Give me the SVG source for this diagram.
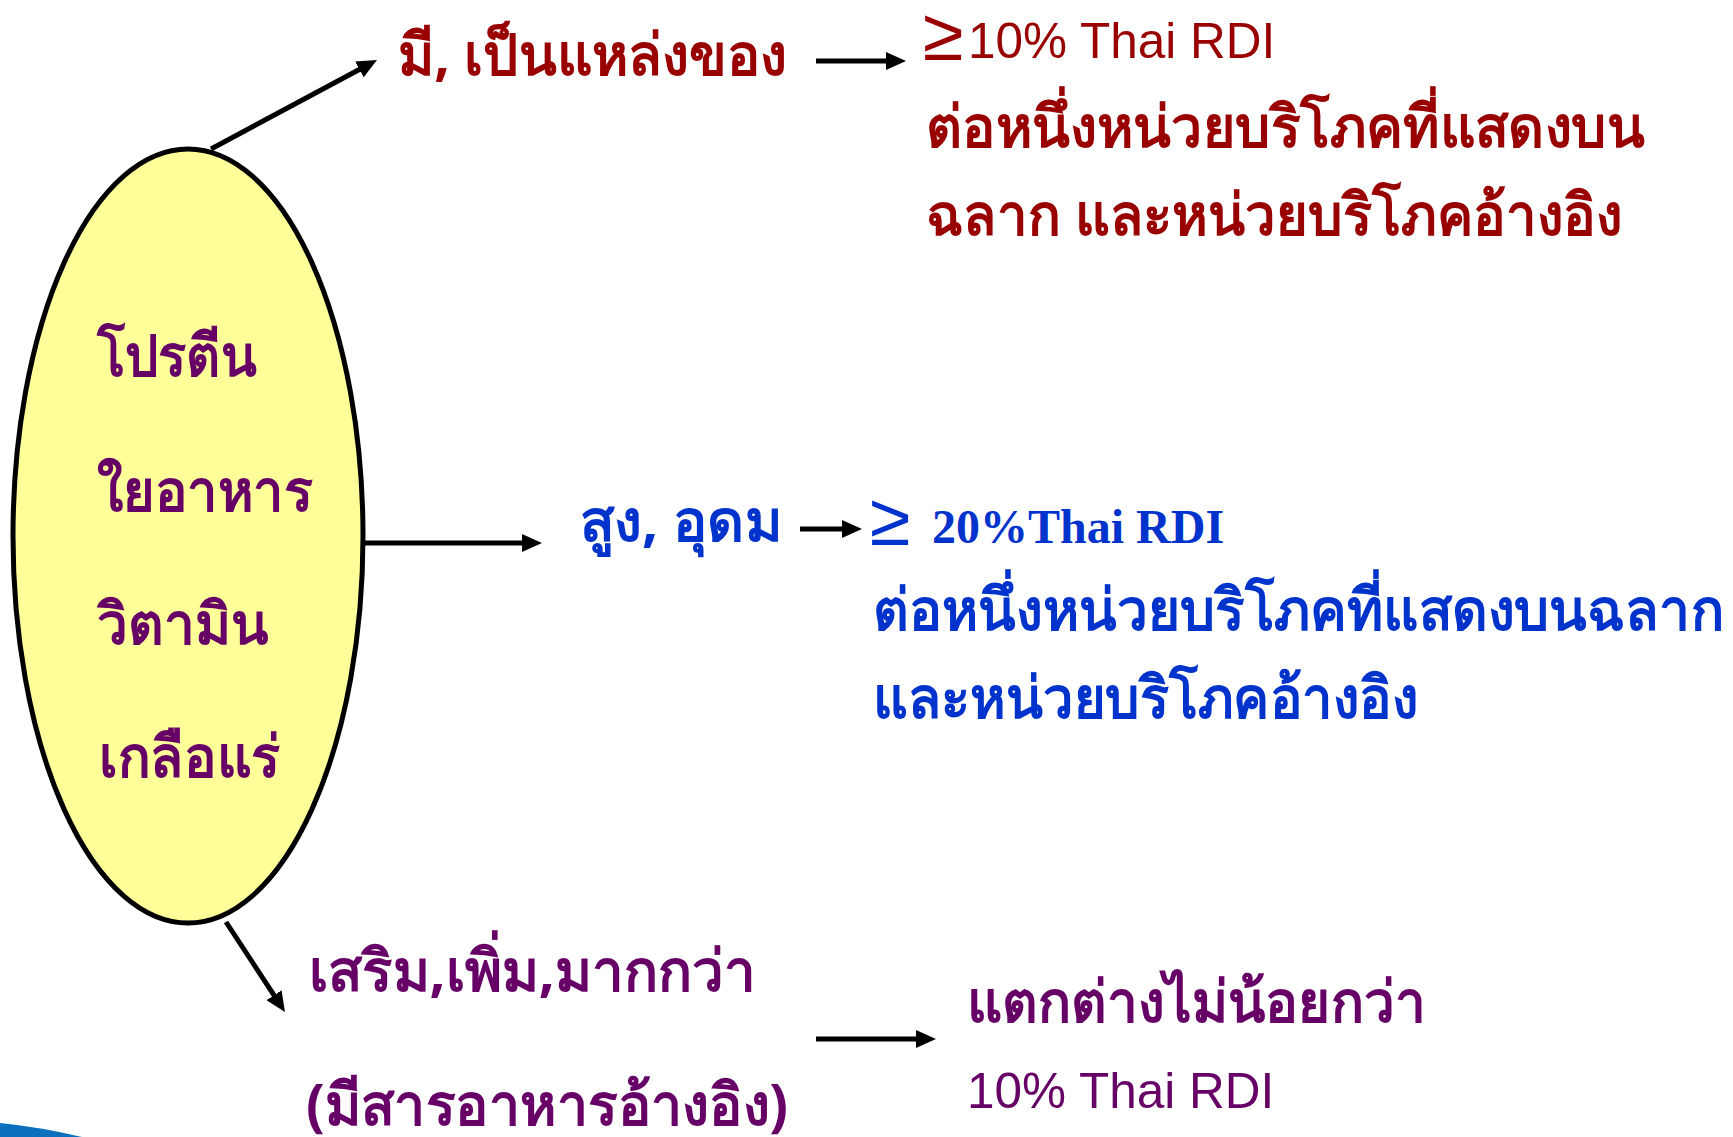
<svg xmlns="http://www.w3.org/2000/svg" width="1733" height="1137" viewBox="0 0 1733 1137">
<style>
.th{font-family:"Noto Sans","DejaVu Sans",sans-serif;font-weight:bold;font-size:58px}
.ar{font-family:"Liberation Sans",Arial,sans-serif;font-size:49.5px}
.tm{font-family:"Liberation Serif","Times New Roman",serif;font-weight:bold;font-size:48px}
.ge{font-family:"Liberation Sans",Arial,sans-serif;font-size:74px}
.red{fill:#990000}
.pur{fill:#660066}
.blu{fill:#0033CC}
.conn line{stroke:#000;stroke-width:5;marker-end:url(#ah)}
</style>
<defs>
<marker id="ah" markerUnits="userSpaceOnUse" markerWidth="20" markerHeight="18" refX="10" refY="9" orient="auto">
<path d="M0,0 L20,9 L0,18 z" fill="#000"/>
</marker>
</defs>
<rect width="1733" height="1137" fill="#fff"/>
<path d="M0,1123 Q40,1127 82,1137 L0,1137 Z" fill="#0a6fbd"/>
<g id="center">
<ellipse cx="188" cy="536" rx="175" ry="387" fill="#FFFF99" stroke="#000" stroke-width="5"/>
<text class="th pur" x="97" y="376" textLength="160" lengthAdjust="spacingAndGlyphs">โปรตีน</text>
<text class="th pur" x="97" y="511" textLength="216" lengthAdjust="spacingAndGlyphs">ใยอาหาร</text>
<text class="th pur" x="97" y="644" textLength="172" lengthAdjust="spacingAndGlyphs">วิตามิน</text>
<text class="th pur" x="99" y="777" textLength="181" lengthAdjust="spacingAndGlyphs">เกลือแร่</text>
</g>
<g id="source">
<text class="th red" x="398" y="75" textLength="389" lengthAdjust="spacingAndGlyphs">มี, เป็นแหล่งของ</text>
</g>
<g id="source-def">
<text class="ge red" x="923" y="60">≥</text>
<text class="ar red" x="968" y="58">10% Thai RDI</text>
<text class="th red" x="926" y="147" textLength="719" lengthAdjust="spacingAndGlyphs">ต่อหนึ่งหน่วยบริโภคที่แสดงบน</text>
<text class="th red" x="926" y="235" textLength="696" lengthAdjust="spacingAndGlyphs">ฉลาก และหน่วยบริโภคอ้างอิง</text>
</g>
<g id="high">
<text class="th blu" x="580" y="541" textLength="202" lengthAdjust="spacingAndGlyphs">สูง, อุดม</text>
</g>
<g id="high-def">
<text class="ge blu" x="870" y="545">≥</text>
<text class="tm blu" x="932" y="543">20%Thai RDI</text>
<text class="th blu" x="873" y="630" textLength="851" lengthAdjust="spacingAndGlyphs">ต่อหนึ่งหน่วยบริโภคที่แสดงบนฉลาก</text>
<text class="th blu" x="873" y="718" textLength="545" lengthAdjust="spacingAndGlyphs">และหน่วยบริโภคอ้างอิง</text>
</g>
<g id="enriched">
<text class="th pur" x="309" y="991" textLength="447" lengthAdjust="spacingAndGlyphs">เสริม,เพิ่ม,มากกว่า</text>
<text class="th pur" x="306" y="1125" textLength="482" lengthAdjust="spacingAndGlyphs">(มีสารอาหารอ้างอิง)</text>
</g>
<g id="enriched-def">
<text class="th pur" x="967" y="1022" textLength="459" lengthAdjust="spacingAndGlyphs">แตกต่างไม่น้อยกว่า</text>
<text class="ar pur" x="967" y="1108">10% Thai RDI</text>
</g>
<g id="connectors" class="conn">
<line x1="211" y1="149" x2="368.2" y2="64.7"/>
<line x1="362" y1="543" x2="532" y2="543"/>
<line x1="800" y1="529" x2="852" y2="529"/>
<line x1="816" y1="61" x2="896" y2="61"/>
<line x1="816" y1="1039" x2="926" y2="1039"/>
<line x1="226" y1="922" x2="279.5" y2="1003.6"/>
</g>
</svg>
